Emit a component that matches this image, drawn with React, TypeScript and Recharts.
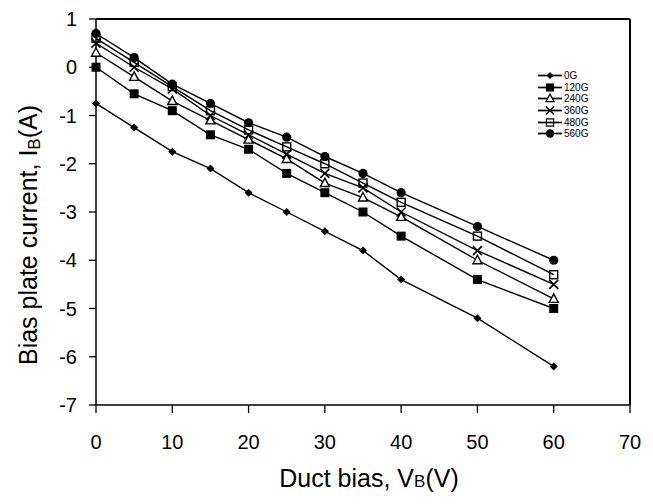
import React from 'react';
import { LineChart, Line, XAxis, YAxis, ReferenceLine, Legend } from 'recharts';

const xValues = [0, 5, 10, 15, 20, 25, 30, 35, 40, 50, 60];
const s0G = [-0.75, -1.25, -1.75, -2.1, -2.6, -3.0, -3.4, -3.8, -4.4, -5.2, -6.2];
const s120G = [0, -0.55, -0.9, -1.4, -1.7, -2.2, -2.6, -3.0, -3.5, -4.4, -5.0];
const s240G = [0.3, -0.2, -0.7, -1.1, -1.5, -1.9, -2.4, -2.7, -3.1, -4.0, -4.8];
const s360G = [0.5, 0.0, -0.45, -1.0, -1.4, -1.8, -2.2, -2.5, -3.0, -3.8, -4.5];
const s480G = [0.6, 0.1, -0.4, -0.9, -1.3, -1.65, -2.0, -2.4, -2.8, -3.5, -4.3];
const s560G = [0.7, 0.2, -0.35, -0.75, -1.15, -1.45, -1.85, -2.2, -2.6, -3.3, -4.0];

const seriesNames = ['0G', '120G', '240G', '360G', '480G', '560G'];
const seriesValues = [s0G, s120G, s240G, s360G, s480G, s560G];
const seriesShapes = ['diamond', 'square', 'triangle', 'cross', 'opensquare', 'circle'];

const xTicks = [0, 10, 20, 30, 40, 50, 60, 70];
const yTicks = [-7, -6, -5, -4, -3, -2, -1, 0, 1];

const data = xValues.map((x, i) => {
  const row: any = { x };
  seriesNames.forEach((n, k) => {
    row[n] = seriesValues[k][i];
  });
  return row;
});

const FONT = '"Liberation Sans", Arial, sans-serif';

function Marker({ shape, cx, cy }: { shape: string; cx: number; cy: number }) {
  switch (shape) {
    case 'diamond':
      return <path d={`M${cx},${cy - 4}L${cx + 4},${cy}L${cx},${cy + 4}L${cx - 4},${cy}Z`} fill="#000" />;
    case 'square':
      return <rect x={cx - 4.5} y={cy - 4.5} width={9} height={9} fill="#000" />;
    case 'triangle':
      return (
        <path
          d={`M${cx},${cy - 5}L${cx + 4.5},${cy + 3.5}L${cx - 4.5},${cy + 3.5}Z`}
          fill="#fff"
          stroke="#000"
          strokeWidth={1.4}
        />
      );
    case 'cross':
      return (
        <path
          d={`M${cx - 4.5},${cy - 4.5}L${cx + 4.5},${cy + 4.5}M${cx + 4.5},${cy - 4.5}L${cx - 4.5},${cy + 4.5}`}
          stroke="#000"
          strokeWidth={1.6}
          fill="none"
        />
      );
    case 'opensquare':
      return <rect x={cx - 4} y={cy - 4} width={8} height={8} fill="none" stroke="#000" strokeWidth={1.4} />;
    case 'circle':
    default:
      return <circle cx={cx} cy={cy} r={4.6} fill="#000" />;
  }
}

const makeDot = (shape: string) => (props: any) => {
  const { cx, cy, index } = props;
  if (cx == null || cy == null) return <g key={`e-${shape}-${index}`} />;
  return (
    <g key={`${shape}-${index}`}>
      <Marker shape={shape} cx={cx} cy={cy} />
    </g>
  );
};

const LegendContent = () => (
  <div style={{ fontFamily: FONT, fontSize: 10, color: '#000' }}>
    {seriesNames.map((n, k) => (
      <div key={n} style={{ display: 'flex', alignItems: 'center', height: 11.6, lineHeight: '11px' }}>
        <svg width={26} height={11} style={{ display: 'block' }}>
          <line x1={0} y1={5.5} x2={24} y2={5.5} stroke="#000" strokeWidth={1.7} />
          <g transform="translate(12,5.5) scale(0.9) translate(-12,-5.5)">
            <Marker shape={seriesShapes[k]} cx={12} cy={5.5} />
          </g>
        </svg>
        <span style={{ fontSize: 10, lineHeight: '11px', display: 'block', height: 11, overflow: 'visible' }}>{n}</span>
      </div>
    ))}
  </div>
);

const XTitle = () => (
  <text x={369} y={487} textAnchor="middle" fontFamily={FONT} fontSize={25} fill="#000">
    Duct bias, V
    <tspan fontSize={17} dy={0}>B</tspan>
    <tspan>(V)</tspan>
  </text>
);

const YTitle = () => (
  <text
    transform="translate(37,235) rotate(-90)"
    x={0}
    y={0}
    textAnchor="middle"
    fontFamily={FONT}
    fontSize={25}
    fill="#000"
  >
    Bias plate current, I
    <tspan fontSize={17} dy={3}>B</tspan>
    <tspan dy={-3}>(A)</tspan>
  </text>
);

export default function App() {
  return (
    <div style={{ position: 'absolute', left: 0, top: 0, width: 653, height: 504, background: '#fff' }}>
      <LineChart
        width={653}
        height={504}
        data={data}
        margin={{ top: 19, right: 23, bottom: 0, left: 0 }}
      >
        <XAxis
          dataKey="x"
          type="number"
          domain={[0, 70]}
          ticks={xTicks}
          height={99}
          tickSize={8}
          tickMargin={22}
          axisLine={{ stroke: '#000', strokeWidth: 1.5 }}
          tickLine={{ stroke: '#000', strokeWidth: 1.3 }}
          tick={{ fill: '#000', fontSize: 20, fontFamily: FONT }}
          label={{ content: () => <XTitle /> }}
        />
        <YAxis
          type="number"
          domain={[-7, 1]}
          ticks={yTicks}
          width={96}
          tickSize={7}
          tickMargin={12}
          axisLine={{ stroke: '#000', strokeWidth: 1.5 }}
          tickLine={{ stroke: '#000', strokeWidth: 1.3 }}
          tick={{ fill: '#000', fontSize: 20, fontFamily: FONT }}
          label={{ content: () => <YTitle /> }}
        />
        <ReferenceLine y={1} stroke="#000" strokeWidth={2} ifOverflow="visible" />
        <ReferenceLine x={70} stroke="#000" strokeWidth={2} ifOverflow="visible" />
        {seriesNames.map((n, k) => (
          <Line
            key={n}
            dataKey={n}
            type="linear"
            stroke="#000"
            strokeWidth={1.4}
            dot={makeDot(seriesShapes[k])}
            activeDot={false}
            isAnimationActive={false}
          />
        ))}
        <Legend
          layout="vertical"
          align="center"
          verticalAlign="middle"
          content={<LegendContent />}
          wrapperStyle={{ position: 'absolute', left: 538, top: 70, width: 70, height: 72 }}
        />
      </LineChart>
    </div>
  );
}
